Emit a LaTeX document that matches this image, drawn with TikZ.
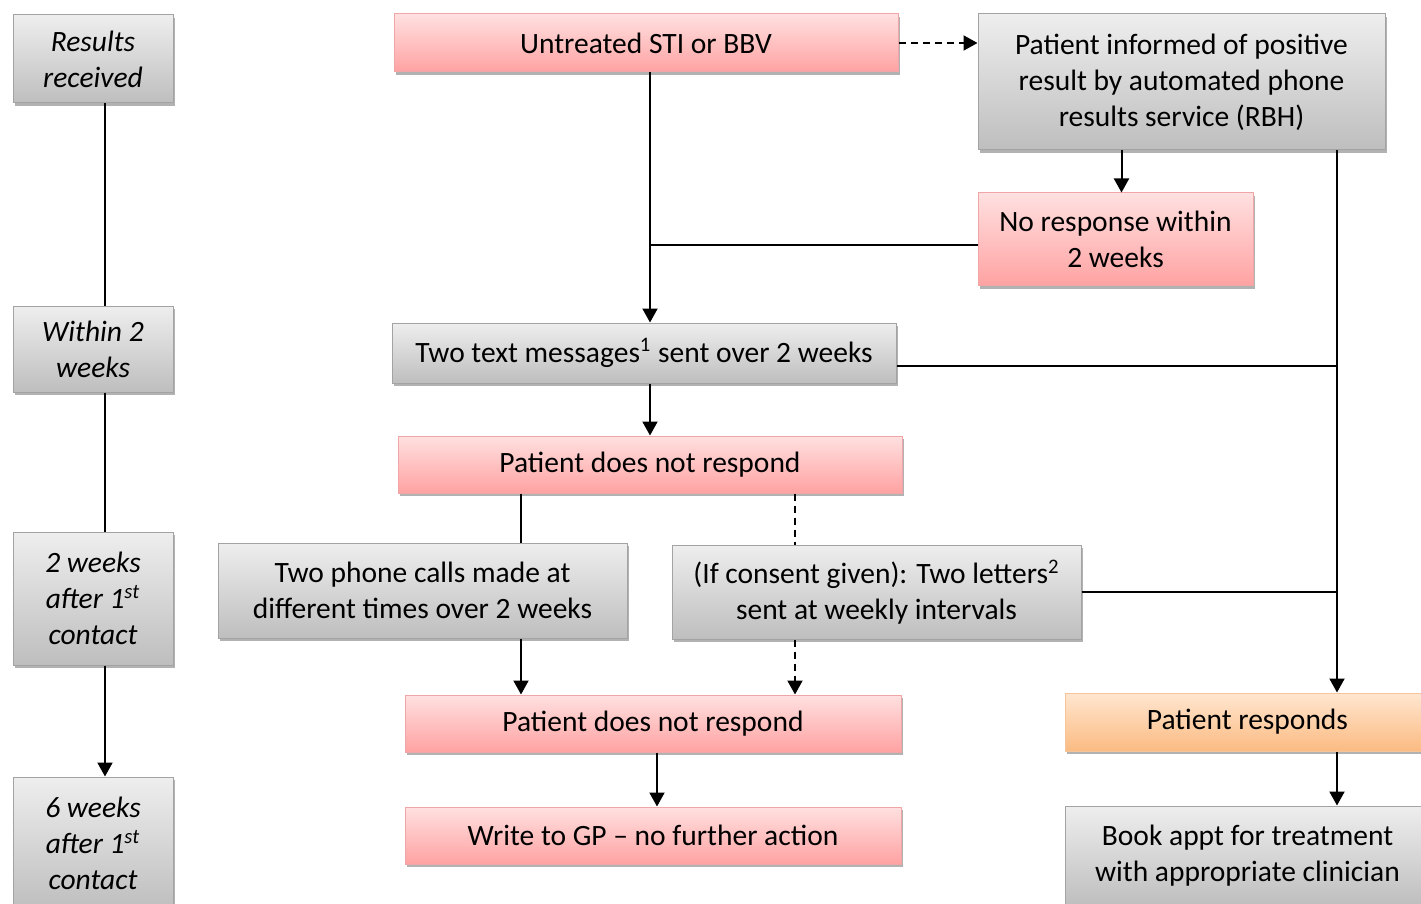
\documentclass[tikz,border=0pt]{standalone}
\usepackage{fontspec}
\setmainfont{Carlito}
\usetikzlibrary{arrows.meta,shadows}
\definecolor{graytop}{HTML}{EEEEEE}
\definecolor{graybot}{HTML}{BEBEBE}
\definecolor{grayline}{HTML}{A3A3A3}
\definecolor{pinktop}{HTML}{FFE0E0}
\definecolor{pinkbot}{HTML}{FFA2A2}
\definecolor{pinkline}{HTML}{F0A6A6}
\definecolor{orangetop}{HTML}{FFE6D0}
\definecolor{orangebot}{HTML}{FBBB82}
\definecolor{orangeline}{HTML}{F6C49A}
\begin{document}
\begin{tikzpicture}[x=0.5pt,y=-0.5pt,line width=1pt,>={Triangle[length=7pt,width=7.5pt]},
every node/.style={font=\fontsize{14.75pt}{18pt}\selectfont},
box/.style={rectangle,inner sep=0pt,align=center,line width=0.5pt,
  drop shadow={shadow xshift=1pt,shadow yshift=-1.5pt,opacity=0.3,fill=black}},
graybox/.style={box,draw=grayline,top color=graytop,bottom color=graybot},
pinkbox/.style={box,draw=pinkline,top color=pinktop,bottom color=pinkbot},
orangebox/.style={box,draw=orangeline,top color=orangetop,bottom color=orangebot},
timebox/.style={graybox,minimum width=80pt,font=\fontsize{14.75pt}{18pt}\selectfont\itshape},
dashline/.style={dash pattern=on 3.5pt off 2.5pt}]
\useasboundingbox (0,0) rectangle (1421,904);

% time line
\draw (93,59) node[timebox,minimum height=44pt] (res) {Results\\received};
\draw (93,349) node[timebox,minimum height=43pt] (within) {Within 2\\weeks};
\draw (93,598.5) node[timebox,minimum height=66.5pt] (twowk) {2 weeks\\after 1\textsuperscript{st}\\contact};
\draw (93,843.5) node[timebox,minimum height=66.5pt] (sixwk) {6 weeks\\after 1\textsuperscript{st}\\contact};

% main flow
\draw (646,43) node[pinkbox,minimum width=252pt,minimum height=29pt] (untreated) {Untreated STI or BBV};
\draw (1181.5,82) node[graybox,minimum width=203.5pt,minimum height=68pt] (informed) {Patient informed of positive\\result by automated phone\\results service (RBH)};
\draw (1115.5,239.5) node[pinkbox,minimum width=137.5pt,minimum height=46.5pt] (noresp) {No response within\\2 weeks};
\draw (644,353) node[graybox,minimum width=252pt,minimum height=30pt] (texts) {Two text messages\textsuperscript{1} sent over 2 weeks};
\draw (650,464.5) node[pinkbox,minimum width=252pt,minimum height=28.5pt] (nr1) {Patient does not respond};
\draw (422.5,590.5) node[graybox,minimum width=204.5pt,minimum height=47.5pt] (calls) {Two phone calls made at\\different times over 2 weeks};
\draw (876.5,592) node[graybox,minimum width=204.5pt,minimum height=47pt] (letters) {(If consent given): Two letters\textsuperscript{2}\\sent at weekly intervals};
\draw (653,723.5) node[pinkbox,minimum width=248pt,minimum height=28.5pt] (nr2) {Patient does not respond};
\draw (653,835.5) node[pinkbox,minimum width=248pt,minimum height=28.5pt] (gp) {Write to GP -- no further action};
\draw (1247.5,722) node[orangebox,minimum width=182.5pt,minimum height=29pt] (responds) {Patient responds};
\draw (1247.5,856) node[graybox,minimum width=182.5pt,minimum height=50pt] (book) {Book appt for treatment\\with appropriate clinician};

\coordinate (tcol) at (105,0);
\coordinate (spine) at (650,245);
\coordinate (lcol) at (521,0);
\coordinate (dcol) at (795,0);
\coordinate (rspine) at (1337,0);

\draw (res.south -| tcol) -- (within.north -| tcol);
\draw (within.south -| tcol) -- (twowk.north -| tcol);
\draw[->] (twowk.south -| tcol) -- (sixwk.north -| tcol);

\draw[->,dashline] (untreated.east) -- (informed.west |- untreated.east);
\draw[->] (untreated.south -| spine) -- (texts.north -| spine);
\draw (noresp.west |- spine) -- (spine);
\draw[->] ([xshift=3pt]noresp.north |- informed.south) -- ([xshift=3pt]noresp.north);
\draw[->] (informed.south -| rspine) -- (responds.north -| rspine);
\draw ([yshift=-6.5pt]texts.east) -- ([yshift=-6.5pt]texts.east -| rspine);
\draw[->] (texts.south -| nr1.north) -- (nr1.north);
\draw (nr1.south -| lcol) -- (calls.north -| lcol);
\draw[dashline] (nr1.south -| dcol) -- (letters.north -| dcol);
\draw (letters.east) -- (letters.east -| rspine);
\draw[->] (calls.south -| lcol) -- (nr2.north -| lcol);
\draw[->,dashline] (letters.south -| dcol) -- (nr2.north -| dcol);
\draw[->] ([xshift=2pt]nr2.south) -- ([xshift=2pt]gp.north);
\draw[->] (responds.south -| rspine) -- (book.north -| rspine);
\end{tikzpicture}
\end{document}
